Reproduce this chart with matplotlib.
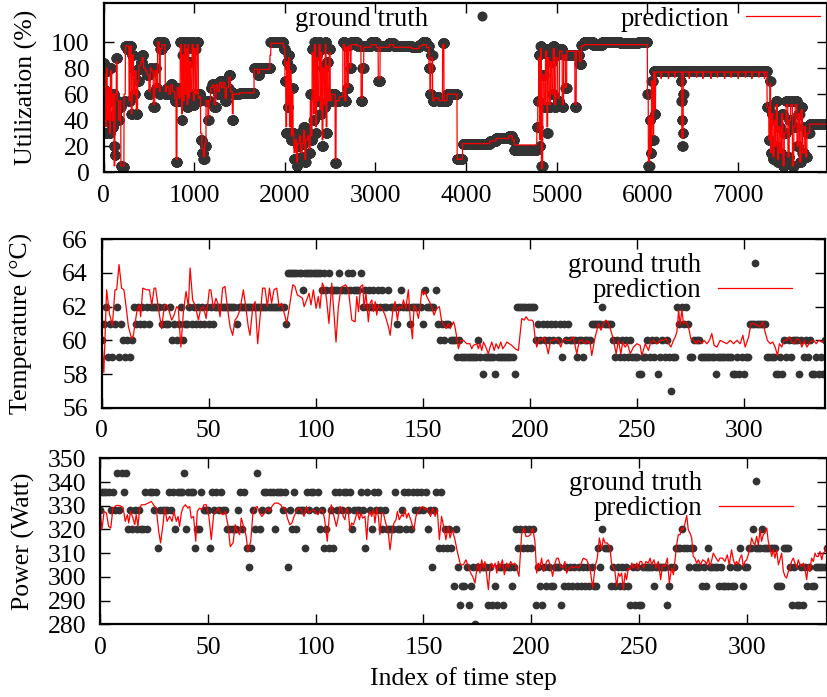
import numpy as np
import matplotlib
matplotlib.use("Agg")
import matplotlib.pyplot as plt
from matplotlib.lines import Line2D

plt.rcParams["font.family"] = ["Liberation Serif", "DejaVu Serif"]
plt.rcParams["font.size"] = 18.5

DOT = "#333333"
RED = "#ff0000"
LEG_FS = 19.3

# ---------------- panel (a): utilization, run-length encoded (start index, value)
util_len = 7985
util_gt_start = [0, 8, 15, 22, 30, 45, 55, 65, 75, 85, 95, 105, 115, 122, 130, 140, 150, 160, 175, 190,
                 205, 225, 240, 260, 280, 290, 305, 315, 330, 345, 360, 375, 390, 410, 425, 440, 460, 480,
                 500, 515, 530, 548, 565, 580, 595, 615, 625, 645, 665, 680, 695, 720, 740, 760, 785, 800,
                 810, 830, 845, 860, 870, 880, 890, 900, 910, 920, 930, 940, 950, 960, 975, 990, 1000, 1015,
                 1030, 1045, 1060, 1070, 1085, 1100, 1115, 1130, 1150, 1160, 1180, 1200, 1220, 1240, 1260,
                 1280, 1300, 1320, 1340, 1355, 1380, 1400, 1420, 1430, 1500, 1660, 1700, 1720, 1840, 1985,
                 2000, 2010, 2020, 2030, 2040, 2050, 2060, 2070, 2080, 2090, 2100, 2115, 2130, 2140, 2160,
                 2175, 2190, 2205, 2220, 2230, 2250, 2265, 2280, 2290, 2300, 2315, 2325, 2340, 2350, 2360,
                 2375, 2390, 2400, 2410, 2420, 2435, 2445, 2455, 2465, 2475, 2490, 2500, 2520, 2555, 2565,
                 2600, 2640, 2660, 2675, 2690, 2700, 2720, 2730, 2800, 2840, 2855, 2870, 2950, 3010, 3030,
                 3050, 3150, 3200, 3400, 3480, 3520, 3560, 3590, 3600, 3610, 3630, 3650, 3700, 3740, 3760,
                 3790, 3900, 3960, 4260, 4330, 4470, 4510, 4530, 4780, 4790, 4800, 4810, 4820, 4830, 4845,
                 4860, 4875, 4890, 4900, 4915, 4930, 4945, 4960, 4975, 4990, 5010, 5030, 5060, 5075, 5095,
                 5110, 5200, 5215, 5250, 5270, 5300, 5400, 5500, 5700, 5900, 6000, 6010, 6025, 6035, 6045,
                 6060, 6070, 6080, 6090, 6370, 6375, 6380, 6385, 6390, 6395, 6400, 7320, 7340, 7350, 7360,
                 7370, 7385, 7400, 7410, 7420, 7435, 7450, 7465, 7480, 7495, 7510, 7530, 7550, 7565, 7580,
                 7600, 7615, 7630, 7650, 7665, 7680, 7695, 7710, 7730, 7745, 7760, 7790]
util_gt_val = [84, 63, 45, 30, 78, 40, 60, 30, 80, 55, 35, 60, 20, 13, 45, 88, 55, 40, 50, 5,
               4, 55, 97, 95, 55, 97, 45, 90, 60, 78, 45, 70, 80, 85, 90, 80, 78, 75,
               60, 80, 78, 50, 80, 65, 100, 60, 95, 100, 98, 60, 65, 60, 68, 62, 55, 8,
               65, 55, 100, 40, 90, 55, 100, 60, 95, 50, 100, 55, 85, 60, 100, 52, 95, 60,
               100, 55, 60, 25, 15, 10, 20, 55, 40, 55, 65, 68, 50, 68, 60,
               70, 65, 70, 55, 65, 75, 62, 40, 60, 61, 80, 75, 80, 100, 95,
               70, 30, 85, 50, 90, 30, 80, 25, 65, 30, 10, 25, 5, 20, 30,
               12, 22, 35, 8, 25, 30, 15, 60, 25, 95, 40, 100, 30, 90, 55,
               100, 45, 95, 20, 80, 50, 100, 30, 85, 55, 95, 55, 60, 7, 55,
               58, 100, 55, 97, 65, 98, 80, 100, 97, 55, 80, 97, 100, 97, 70,
               97, 99, 97, 96, 98, 100, 97, 80, 60, 90, 55, 58, 55, 99, 55,
               60, 10, 22, 24, 26, 28, 25, 17, 35, 55, 90, 20, 97, 5, 75,
               50, 95, 30, 90, 50, 85, 60, 97, 50, 90, 55, 95, 50, 90, 65,
               90, 50, 90, 83, 98, 100, 98, 100, 99, 100, 60, 5, 40, 15, 70,
               25, 78, 45, 78, 70, 55, 40, 20, 30, 60, 78, 50, 25, 70, 15,
               45, 10, 40, 20, 55, 8, 35, 15, 45, 5, 30, 55, 12, 40, 55,
               5, 35, 55, 20, 45, 8, 50, 15, 35, 12, 30, 37]

util_pred_start = [0, 10, 20, 30, 40, 55, 65, 75, 90, 105, 115, 125, 140, 150, 165, 180, 190, 225, 240,
                   280, 290, 305, 315, 330, 345, 360, 375, 390, 410, 425, 440, 460, 480, 500, 515, 530,
                   548, 565, 580, 595, 615, 625, 645, 680, 695, 720, 740, 760, 785, 800, 810, 830, 845,
                   860, 870, 880, 890, 900, 910, 920, 930, 940, 950, 960, 975, 990, 1000, 1015, 1030,
                   1045, 1060, 1070, 1085, 1100, 1115, 1130, 1150, 1160, 1180, 1200, 1220, 1240, 1260,
                   1280, 1300, 1320, 1340, 1355, 1380, 1400, 1420, 1430, 1500, 1660, 1700, 1720, 1835,
                   1845, 1985, 2000, 2010, 2020, 2030, 2040, 2050, 2060, 2070, 2080, 2090, 2100, 2115,
                   2130, 2140, 2160, 2175, 2190, 2205, 2220, 2230, 2250, 2265, 2280, 2290, 2300, 2315,
                   2325, 2340, 2350, 2360, 2375, 2390, 2400, 2410, 2420, 2435, 2445, 2455, 2465, 2475,
                   2490, 2500, 2520, 2555, 2565, 2600, 2640, 2660, 2675, 2690, 2700, 2720, 2730, 2800,
                   2840, 2855, 2870, 2950, 3010, 3030, 3050, 3150, 3200, 3400, 3480, 3520, 3560, 3590,
                   3600, 3610, 3630, 3650, 3700, 3740, 3755, 3790, 3900, 3960, 4260, 4330, 4470, 4510,
                   4530, 4780, 4790, 4800, 4810, 4820, 4830, 4845, 4860, 4875, 4890, 4900, 4915, 4930,
                   4945, 4960, 4975, 4990, 5010, 5030, 5060, 5075, 5095, 5110, 5200, 5215, 5250, 5270,
                   5300, 6000, 6010, 6025, 6035, 6045, 6060, 6070, 6080, 6090, 6150, 6155, 6230, 6235,
                   6300, 6305, 6380, 6395, 6460, 6465, 6540, 6545, 6610, 6615, 6700, 6705, 6770, 6775,
                   6850, 6855, 6920, 6925, 7000, 7005, 7080, 7085, 7150, 7155, 7230, 7235, 7290, 7295,
                   7320, 7340, 7350, 7360, 7370, 7385, 7400, 7410, 7420, 7435, 7450, 7465, 7480, 7495,
                   7510, 7530, 7550, 7565, 7580, 7600, 7615, 7630, 7650, 7665, 7680, 7695, 7710, 7730,
                   7745, 7760, 7790]
util_pred_val = [60, 75, 35, 80, 40, 65, 30, 78, 40, 60, 5, 60, 85, 55, 40, 55, 5, 60, 97,
                 55, 97, 45, 90, 60, 78, 48, 70, 82, 85, 88, 80, 78, 75, 62, 80, 78,
                 52, 78, 65, 100, 62, 95, 98, 62, 66, 60, 67, 62, 57, 10, 65, 57, 98,
                 45, 90, 55, 98, 60, 95, 52, 98, 57, 85, 62, 98, 55, 95, 60, 98,
                 57, 58, 30, 18, 12, 22, 55, 42, 55, 65, 67, 52, 67, 62,
                 69, 65, 69, 57, 65, 73, 62, 45, 60, 61, 79, 76, 79, 90,
                 99, 96, 72, 35, 85, 52, 88, 35, 78, 28, 62, 30, 15, 25,
                 8, 22, 28, 15, 22, 32, 10, 25, 28, 18, 55, 28, 92, 45,
                 98, 35, 88, 55, 98, 48, 92, 25, 80, 52, 98, 35, 82, 55,
                 92, 55, 60, 10, 55, 58, 98, 55, 96, 65, 97, 80, 98, 97,
                 57, 80, 96, 98, 96, 72, 96, 98, 96, 95, 97, 98, 96, 80,
                 62, 88, 55, 57, 55, 98, 55, 60, 10, 22, 24, 26, 28, 25,
                 21, 32, 55, 88, 25, 95, 3, 75, 52, 93, 35, 88, 52, 85,
                 60, 95, 52, 88, 57, 93, 52, 90, 65, 93, 52, 93, 85, 97,
                 98, 60, 8, 42, 15, 70, 28, 77, 48, 77, 72, 77, 72, 77,
                 73, 77, 26, 77, 72, 77, 73, 77, 72, 77, 72, 77, 73, 77,
                 72, 77, 73, 77, 72, 77, 73, 77, 72, 77, 73, 77, 72, 77,
                 50, 25, 68, 15, 45, 12, 40, 20, 52, 10, 35, 15, 45, 5,
                 30, 52, 12, 40, 52, 5, 35, 52, 20, 45, 8, 48, 15, 35,
                 12, 30, 37]

# ---------------- panel (b): temperature
temp_gt = [60, 61, 62, 59, 61, 59, 61, 62, 59, 61,
           60, 59, 60, 59, 60, 62, 61, 62, 61, 62,
           61, 62, 61, 62, 62, 62, 62, 62, 61, 62,
           61, 61, 62, 60, 61, 60, 61, 62, 60, 61,
           61, 62, 61, 62, 61, 62, 61, 62, 61, 62,
           61, 62, 61, 62, 62, 62, 62, 62, 62, 62,
           62, 62, 62, 61, 62, 62, 62, 62, 62, 62,
           62, 62, 62, 62, 62, 62, 62, 62, 62, 62,
           62, 62, 62, 62, 62, 62, 61, 64, 64, 64,
           64, 64, 64, 64, 63, 64, 64, 64, 64, 64,
           64, 64, 64, 63, 64, 63, 64, 63, 63, 63,
           63, 64, 63, 63, 63, 64, 63, 64, 63, 63,
           63, 64, 62, 63, 62, 63, 62, 63, 62, 63,
           62, 63, 62, 62, 63, 62, 62, 62, 61, 62,
           63, 62, 62, 62, 61, 62, 62, 62, 62, 62,
           61, 63, 62, 62, 62, 62, 63, 61, 60, 61,
           60, 61, 61, 60, 60, 60, 59, 60, 59, 59,
           59, 59, 59, 59, 59, 59, 60, 59, 58, 59,
           59, 59, 59, 59, 58, 59, 59, 59, 59, 59,
           59, 59, 59, 58, 62, 62, 62, 62, 62, 62,
           62, 62, 62, 60, 61, 60, 61, 60, 61, 60,
           61, 60, 61, 60, 61, 59, 61, 60, 61, 60,
           60, 60, 59, 60, 60, 59, 60, 60, 60, 61,
           61, 61, 61, 61, 62, 61, 61, 61, 61, 60,
           59, 60, 59, 60, 59, 60, 59, 60, 59, 59,
           59, 58, 58, 59, 59, 60, 59, 60, 59, 60,
           58, 59, 60, 59, 60, 59, 57, 59, 59, 62,
           61, 62, 61, 62, 61, 59, 59, 60, 60, 60,
           59, 59, 59, 59, 59, 59, 59, 58, 59, 59,
           59, 59, 59, 59, 59, 58, 58, 59, 58, 59,
           58, 59, 59, 61, 61, 61, 61, 61, 61, 61,
           61, 59, 59, 59, 59, 58, 58, 59, 58, 60,
           59, 60, 59, 60, 60, 60, 58, 60, 59, 60,
           59, 60, 58, 58, 59, 58, 59, 58, 60]

temp_pred_x = [0, 1, 2.3, 3.6, 5.0, 6.2, 7.0, 8.1, 9.3, 10.4, 11.4, 12.5, 14.0, 14.8, 16.4, 17.6, 18.2,
               19.2, 21.0, 22.3, 23.4, 24.5, 25.2, 26.5, 28.0, 29.3, 30.4, 31.6, 32.7, 33.8, 35.0, 35.8,
               37.0, 38.2, 39.4, 40.5, 41.3, 42.5, 43.6, 45.2, 46.3, 47.5, 48.8, 50.3, 51.0, 52.2, 53.4,
               54.5, 55.3, 56.5, 57.6, 58.9, 60.0, 61.2, 62.3, 63.4, 64.6, 66.2, 67.3, 68.5, 69.3, 70.6,
               71.7, 72.9, 74.0, 75.2, 76.3, 77.4, 78.4, 79.4, 80.5, 81.8, 82.9, 84.1, 84.9, 86.5, 87.7,
               89.3, 90.3, 91.4, 92.7, 93.8, 94.6, 95.8, 96.9, 97.8, 98.9, 100.2, 101.2, 102.0, 103.1,
               104.4, 105.1, 106.2, 107.5, 108.3, 109.5, 110.6, 111.7, 112.6, 114.0,
               115.3, 116.9, 118.4, 119.2, 120.0, 121.0, 122.0, 122.6, 123.5, 124.6, 125.4, 126.2,
               127.0, 127.8, 128.5, 129.3, 130.1, 131.3, 132.4, 134.0, 134.8, 136.0, 137.1, 138.2,
               139.1, 140.2, 141.0, 142.1, 143.3, 144.1, 145.2, 146.0, 146.9, 148.0, 148.8, 149.6,
               150.3, 151.1, 151.9, 153.1, 154.2, 155.3, 156.6, 157.8, 158.9, 160.0, 160.9, 162.0,
               162.8, 164.4, 165.1, 165.9, 166.7, 167.8, 169.0, 170.6, 172.1, 172.9, 173.7, 175.3,
               176.0, 176.8, 177.6, 178.4, 179.5, 180.7, 181.5, 182.3, 183.4, 184.3, 185.4, 186.5,
               187.4, 188.5, 189.3, 190.5, 191.6, 193.2, 194.7, 196.3, 197.4, 198.3, 199.4, 201.0,
               201.7, 202.5, 203.3, 204.5, 205.6, 206.7, 208.0, 208.7, 209.8, 211.1, 212.3, 213.4,
               214.5, 215.8, 217.3, 218.9, 220.4, 222.0, 223.2, 224.3, 225.9,
               227.0, 228.3, 229.0, 230.6, 232.2, 233.3, 234.5, 235.7, 236.8, 237.9, 239.2, 240.4,
               241.5, 242.6, 243.5, 244.6, 245.7, 247.0, 248.5, 250.1, 251.6, 252.4, 254.0, 255.5,
               256.6, 257.9, 259.4, 261.0, 262.5, 263.8, 264.9, 266.0, 267.2, 268.0, 268.8, 269.6,
               270.3, 271.1, 271.9, 273.1, 274.2, 275.3, 276.6, 277.8, 278.9, 280.5, 281.5, 282.8,
               284.0, 285.1, 286.2, 287.5, 289.0, 290.6, 292.1, 293.7, 295.3, 296.8, 298.4, 299.6,
               300.7, 302.3, 303.4, 304.6, 306.2, 307.7, 308.9, 310.0, 311.1, 312.4, 313.6, 314.7,
               315.8, 316.7, 317.8, 318.9, 320.2, 321.3, 322.5, 323.6, 324.8, 326.1, 327.2, 328.3,
               329.5, 331.1, 332.6, 333.9, 335.0, 336.5, 338.0]
temp_pred_y = [60.2, 58.1, 63.0, 61.6, 60.9, 63.0, 63.0, 64.5, 63.1, 63.0, 62.0, 60.8, 60.1, 60.3, 61.7, 62.1, 61.4,
               63.1, 63.0, 63.0, 62.1, 63.1, 63.1, 61.9, 60.7, 62.1, 62.1, 61.7, 61.2, 61.5, 62.0, 61.9,
               59.6, 61.7, 62.9, 62.0, 64.3, 62.4, 62.1, 61.2, 61.9, 62.0, 61.3, 63.0, 63.0, 61.9, 62.5,
               62.1, 61.4, 63.1, 63.2, 61.8, 60.8, 60.3, 61.2, 61.4, 61.8, 63.0, 62.0, 60.8, 60.3, 62.0,
               62.3, 59.8, 61.4, 63.1, 63.1, 62.0, 63.1, 62.2, 63.0, 63.1, 62.0, 62.2, 61.8, 61.0, 62.0,
               63.3, 63.2, 62.7, 62.6, 62.5, 62.0, 62.4, 62.8, 62.1, 63.0, 61.9, 62.6, 61.9, 63.4,
               63.0, 62.4, 61.0, 63.4, 62.0, 59.9, 62.0, 63.0, 63.2, 63.3,
               63.0, 61.2, 61.1, 62.6, 61.7, 63.2, 63.3, 61.9, 62.8, 61.1, 62.2, 62.4,
               61.7, 62.3, 61.5, 62.1, 62.0, 61.8, 61.5, 60.8, 60.3, 61.7, 62.3, 61.2,
               62.0, 61.9, 62.4, 61.9, 63.0, 61.4, 60.1, 62.1, 61.9, 61.3, 62.0, 63.0,
               62.7, 62.9, 62.6, 62.3, 62.0, 61.5, 61.9, 62.0, 61.1, 60.9, 60.7, 61.0,
               60.7, 61.1, 60.8, 60.2, 59.5, 60.0, 60.0, 59.8, 59.8, 59.5, 59.7, 59.8,
               59.5, 59.8, 59.4, 59.9, 59.6, 59.2, 59.6, 59.9, 59.4, 59.8, 59.5, 59.9,
               59.5, 59.7, 59.9, 59.8, 59.7, 59.5, 59.4, 61.3, 61.2, 61.4, 61.2, 61.2,
               61.1, 60.2, 59.6, 60.1, 60.0, 60.2, 59.6, 59.2, 60.0, 60.0, 60.1, 60.0,
               59.6, 60.1, 60.0, 60.0, 60.2, 59.2, 60.0, 60.0, 59.8,
               60.0, 59.8, 59.1, 60.2, 61.0, 60.6, 61.0, 61.2, 61.0, 60.6, 60.0, 59.2,
               60.0, 59.2, 59.9, 59.6, 59.8, 59.2, 59.6, 59.8, 59.7, 59.1, 59.8, 59.4,
               59.9, 60.0, 59.8, 60.0, 60.0, 60.1, 59.8, 59.6, 60.0, 60.2, 60.5, 61.8,
               60.9, 61.8, 61.0, 61.1, 60.8, 60.1, 60.0, 59.8, 60.0, 59.8, 60.0, 59.8,
               60.0, 60.4, 59.7, 59.6, 60.0, 59.9, 59.8, 60.0, 59.8, 60.0, 59.8, 60.3,
               59.6, 60.2, 61.0, 61.0, 60.9, 60.8, 61.1, 60.5, 60.0, 59.8, 59.9, 59.6,
               59.1, 59.8, 59.6, 60.0, 60.0, 60.2, 59.9, 59.8, 60.1, 60.0, 59.6, 60.0,
               59.6, 59.9, 60.0, 59.8, 60.0, 59.9, 60.0]

# ---------------- panel (c): power
power_gt = [328, 336, 336, 336, 336, 328, 336, 328, 344, 328,
            344, 336, 344, 320, 328, 320, 328, 320, 328, 320,
            320, 336, 320, 336, 336, 328, 336, 312, 328, 328,
            328, 328, 336, 328, 336, 320, 336, 336, 336, 344,
            320, 336, 336, 336, 312, 320, 320, 336, 328, 328,
            328, 312, 336, 328, 336, 328, 336, 328, 328, 320,
            320, 320, 320, 320, 328, 336, 320, 336, 312, 304,
            312, 328, 320, 344, 320, 328, 336, 336, 328, 336,
            336, 320, 336, 336, 336, 328, 336, 304, 328, 320,
            336, 320, 328, 328, 328, 312, 336, 328, 336, 336,
            328, 336, 320, 328, 312, 320, 312, 328, 312, 336,
            328, 336, 328, 336, 336, 328, 336, 320, 328, 328,
            328, 336, 328, 312, 336, 328, 320, 336, 328, 336,
            328, 320, 328, 320, 320, 320, 320, 336, 320, 320,
            328, 336, 320, 336, 320, 336, 328, 336, 328, 336,
            328, 336, 320, 328, 304, 328, 336, 312, 336, 312,
            320, 312, 320, 312, 296, 320, 304, 288, 296, 296,
            304, 288, 296, 304, 280, 304, 304, 304, 304, 304,
            288, 304, 288, 296, 288, 304, 304, 288, 304, 304,
            304, 296, 304, 320, 312, 320, 312, 320, 312, 320,
            312, 320, 288, 304, 296, 288, 304, 296, 304, 296,
            296, 304, 304, 304, 288, 296, 304, 296, 304, 296,
            304, 296, 304, 296, 304, 296, 304, 296, 304, 296,
            296, 312, 304, 320, 312, 312, 312, 296, 304, 296,
            304, 296, 304, 296, 304, 296, 288, 304, 288, 304,
            288, 288, 304, 304, 304, 304, 304, 296, 304, 304,
            304, 304, 304, 288, 296, 304, 304, 312, 312, 312,
            320, 312, 312, 304, 312, 312, 304, 304, 304, 296,
            304, 296, 312, 304, 304, 304, 304, 296, 304, 296,
            296, 296, 304, 296, 296, 304, 304, 312, 296, 304,
            304, 312, 312, 320, 312, 312, 312, 320, 312, 312,
            312, 312, 312, 312, 296, 296, 296, 312, 312, 312,
            304, 288, 304, 288, 288, 304, 288, 304, 296, 304,
            296, 296, 304, 304, 304, 304, 304, 312, 304]

power_pred_x = [0.3, 0.9, 1.9, 3.0, 4.0, 5.0, 6.0, 7.6, 9.1, 10.7, 11.7, 12.7, 13.3, 14.2, 15.3, 16.1,
                16.8, 17.6, 18.4, 19.2, 20.7, 22.3, 23.8, 25.3, 26.1, 27.2, 28.1, 29.2, 30.0, 31.1,
                32.3, 33.4, 34.3, 35.4, 36.2, 36.9, 37.7, 38.5, 39.6, 40.8, 41.6, 42.3, 43.4, 44.4,
                45.1, 46.2, 47.3, 48.2, 49.3, 50.5, 51.6, 52.7, 53.9, 55.0, 56.0, 57.0, 58.1, 59.3,
                60.4, 61.7, 62.7, 63.7, 64.8, 65.5, 66.8, 67.8, 68.6, 69.9, 70.9, 71.7, 72.9, 74.0,
                75.1, 76.4, 77.6, 78.7, 79.7, 81.0, 82.5, 83.8, 84.8, 85.9, 86.9, 88.0, 89.0, 90.0,
                91.0, 91.8, 93.3, 94.6, 95.7, 96.8, 97.7, 98.8, 99.8, 101.1, 102.3, 103.4, 104.2,
                105.4, 106.5, 107.3, 108.5, 109.6, 110.4,
                111.3, 112.0, 112.8, 113.6, 114.4, 115.2, 115.9, 116.7, 117.5, 118.3, 119.3, 120.3,
                121.0, 121.8, 122.9, 123.7, 124.4, 125.2, 126.0, 126.8, 127.5, 128.3, 129.1, 129.8,
                130.6, 131.4, 132.5, 133.7, 134.5, 135.6, 136.3, 137.3, 137.9, 138.8, 139.9, 140.7,
                141.4, 142.2, 143.0, 144.1, 145.0, 145.6, 146.5, 147.6, 148.7, 149.6, 150.7, 151.5,
                152.3, 153.3, 154.3, 155.4, 156.4, 157.4, 158.4, 159.5, 160.4, 161.5, 162.3, 163.4,
                164.6, 165.7, 166.6, 167.2, 168.5, 169.7, 170.8, 171.9, 172.8, 173.9, 174.7, 175.4,
                176.2, 177.0, 177.8, 178.5, 179.3, 180.1, 180.8, 181.6, 182.4, 183.2, 184.0, 184.7,
                185.5, 186.6, 187.5, 188.6, 189.4, 190.4, 191.4, 192.4, 193.2, 194.3, 195.5, 196.6,
                197.5, 198.6, 199.7, 200.6, 201.7, 202.5, 203.3, 204.0, 204.8, 205.6, 206.4, 207.1,
                207.9, 209.0, 209.9, 211.0, 211.8, 212.5, 213.6, 214.5, 215.6, 216.4, 217.6, 218.7,
                219.5, 220.7, 221.8, 222.9, 224.1,
                225.7, 227.2, 228.5, 229.6, 230.6, 231.6, 232.2, 232.6, 233.4, 234.2, 235.3, 236.5,
                237.3, 238.0, 238.8, 239.6, 240.4, 241.1, 241.9, 242.7, 243.5, 244.2, 245.0, 245.8,
                246.6, 247.3, 248.1, 248.9, 249.6, 250.4, 251.2, 252.0, 253.2, 254.3, 255.1, 255.8,
                256.9, 257.8, 258.9, 260.0, 260.9, 262.0, 263.1, 264.0, 265.1, 265.9, 266.6, 267.4,
                268.2, 269.0, 269.7, 270.5, 271.3, 272.1, 272.8, 273.6, 274.4, 275.1, 275.9, 276.7,
                277.5, 278.5, 279.5, 280.6, 281.3, 282.1, 282.9, 283.7, 284.4, 285.7, 286.7, 287.5,
                288.7, 289.8, 290.9, 291.8, 292.9, 293.7, 294.5, 295.2, 296.0, 296.8, 297.6, 298.3,
                299.1, 299.9, 300.6, 301.4, 302.2, 303.0, 303.7, 304.5, 305.3, 306.1, 306.8, 307.6,
                308.4, 309.2, 309.9, 310.7, 311.5, 312.2, 313.0, 313.8, 314.6, 315.3, 316.1, 316.9,
                317.7, 318.4, 319.2, 320.0, 320.7, 321.5, 322.3, 323.1, 323.8, 324.6, 325.4, 326.2,
                327.0, 327.7, 328.5, 329.2, 330.0, 330.8, 331.6, 332.3, 333.1, 333.9, 334.7, 335.4,
                336.2, 337.0]
power_pred_y = [326.2, 319.9, 327.6, 326.9, 321.3, 320.6, 329.0, 330.1, 330.1, 329.3, 323.4, 326.2, 322.7, 327.6, 324.8, 322.0,
                326.2, 321.3, 329.0, 330.4, 330.4, 331.1, 331.8, 329.7, 329.0, 319.2, 314.3, 322.0, 329.0, 323.4,
                325.5, 323.4, 327.6, 323.4, 325.5, 321.3, 326.9, 329.3, 330.4, 329.0, 329.7, 324.8, 325.5, 315.0,
                327.6, 329.0, 328.3, 330.4, 330.4, 325.5, 315.7, 326.2, 327.6, 329.0, 326.9, 326.2, 327.6, 322.0,
                312.8, 314.3, 322.0, 319.2, 317.8, 324.8, 320.6, 317.1, 310.7, 315.0, 326.9, 329.0, 329.7, 326.9,
                325.5, 326.9, 329.0, 327.6, 329.7, 331.1, 331.1, 330.4, 329.0, 329.0, 324.8, 322.0, 322.7, 325.5,
                327.6, 329.0, 328.3, 325.5, 329.7, 326.9, 327.6, 328.3, 327.6, 326.2, 328.3, 327.6, 324.1,
                315.0, 327.6, 330.4, 325.5, 321.3, 324.8,
                329.7, 329.0, 325.5, 324.1, 329.0, 326.9, 319.9, 322.7, 322.0, 324.1, 327.6, 324.1,
                326.9, 324.8, 325.5, 315.7, 325.5, 327.6, 325.5, 328.3, 322.7, 329.0, 325.5, 317.8,
                326.9, 326.9, 322.7, 318.5, 311.4, 319.9, 322.7, 324.1, 327.6, 324.1, 326.2, 325.5,
                328.3, 324.8, 326.9, 324.1, 321.3, 319.9, 325.5, 327.6, 329.0, 329.7, 328.3, 329.0,
                327.6, 325.5, 329.0, 325.5, 328.3, 315.7, 325.5, 320.6, 315.7, 321.3, 316.4, 319.9,
                315.7, 310.7, 307.2, 305.1, 305.1, 307.2, 304.4, 301.6, 300.2, 297.4, 303.0, 305.8,
                301.6, 307.2, 303.7, 306.5, 300.9, 294.6, 303.0, 305.8, 303.7, 305.8, 301.6, 306.5,
                303.7, 307.2, 300.9, 305.8, 303.7, 306.5, 305.1, 305.8, 303.7, 300.2, 317.8, 320.6,
                317.1, 317.1, 317.8, 320.6, 315.0, 301.6, 305.8, 303.7, 307.9, 302.3, 303.7, 306.5,
                307.2, 304.4, 300.2, 305.8, 307.9, 307.9, 304.4, 303.7, 306.5, 301.6, 303.7, 304.4,
                303.7, 304.4, 303.7, 305.1, 307.9,
                307.2, 303.7, 295.3, 304.4, 307.9, 316.4, 313.5, 311.4, 316.4, 314.3, 314.3, 312.1,
                305.1, 304.4, 302.3, 296.0, 301.6, 300.2, 301.6, 294.6, 301.6, 298.8, 303.7, 303.0,
                305.8, 303.7, 304.4, 305.8, 303.0, 306.5, 306.5, 303.7, 306.5, 305.8, 307.9, 305.1,
                307.2, 303.7, 306.5, 298.8, 305.1, 304.4, 307.9, 297.4, 303.7, 300.9, 306.5, 313.5,
                317.8, 317.8, 320.6, 319.9, 322.7, 325.9, 319.9, 318.5, 316.4, 308.6, 307.9, 305.8,
                307.2, 305.1, 307.2, 306.5, 305.1, 307.9, 304.4, 307.2, 310.0, 307.9, 306.5, 307.9,
                307.9, 306.5, 309.3, 305.1, 311.4, 307.2, 305.1, 306.5, 305.1, 307.9, 309.3, 304.4,
                306.5, 307.2, 309.3, 312.1, 316.4, 314.3, 313.5, 317.1, 313.5, 319.9, 315.0, 317.8,
                318.5, 320.6, 315.0, 312.1, 308.6, 311.4, 307.9, 311.4, 305.1, 307.2, 310.0, 302.3,
                300.2, 299.5, 302.3, 303.7, 306.5, 307.9, 305.8, 303.7, 307.2, 305.1, 304.4, 305.8,
                303.0, 298.8, 305.1, 302.3, 307.9, 306.5, 310.0, 308.6, 308.6, 310.7, 307.2, 310.0,
                310.7, 313.5]


def runs(starts, vals, n):
    lengths = np.diff(starts + [n])
    return np.repeat(vals, lengths)


def style(ax):
    ax.tick_params(direction="in", length=7, width=1.0, top=True, right=True)
    ax.tick_params(axis="x", pad=9)
    ax.tick_params(axis="y", pad=10)
    for s in ax.spines.values():
        s.set_linewidth(1.6)


W, H = 828, 697
fig = plt.figure(figsize=(W / 100, H / 100), dpi=100)


def axes_px(left, right, top, bottom):
    return fig.add_axes([left / W, 1 - bottom / H, (right - left) / W, (bottom - top) / H])


leg_kw = dict(markerfirst=False, frameon=False, loc="center right", borderaxespad=0,
              borderpad=0, handlelength=2.76, handletextpad=0.63, fontsize=LEG_FS)

# (a) utilization
ax1 = axes_px(103.6, 827.3, 3, 172.3)
idx = np.arange(util_len)
ax1.plot(idx, runs(util_gt_start, util_gt_val, util_len), "o", ms=7.2, mew=0, color=DOT)
ax1.plot(idx, runs(util_pred_start, util_pred_val, util_len), "-", lw=0.9, color=RED)
ax1.set_xlim(0, util_len)
ax1.set_ylim(0, 130)
ax1.set_xticks(np.arange(0, 8000, 1000))
ax1.set_yticks(np.arange(0, 101, 20))
ax1.set_ylabel("Utilization (%)")
ax1.yaxis.set_label_coords(-0.091, 0.5)
style(ax1)
h_gt = Line2D([], [], ls="none", marker="o", ms=7.2, mew=0, color=DOT)
h_pr = Line2D([], [], ls="-", lw=0.9, color=RED)
ax1.legend([h_gt, h_pr], ["ground truth", "prediction"], ncol=2,
           bbox_to_anchor=(0.99, 0.905), columnspacing=3.8, **leg_kw)

# (b) temperature
ax2 = axes_px(101.7, 825, 239.3, 407.7)
ax2.plot(np.arange(len(temp_gt)), temp_gt, "o", ms=5.6, mew=0, color=DOT)
ax2.plot(temp_pred_x, temp_pred_y, "-", lw=0.9, color=RED)
ax2.set_xlim(0, 338)
ax2.set_ylim(56, 66)
ax2.set_xticks(np.arange(0, 301, 50))
ax2.set_yticks(np.arange(56, 67, 2))
ax2.set_ylabel("Temperature (°C)")
ax2.yaxis.set_label_coords(-0.095, 0.5)
style(ax2)
h_gt2 = Line2D([], [], ls="none", marker="o", ms=5.6, mew=0, color=DOT)
ax2.legend([h_gt2, h_pr], ["ground truth", "prediction"],
           bbox_to_anchor=(0.954, 0.77), labelspacing=0.0, **leg_kw)

# (c) power
ax3 = axes_px(100, 826.7, 458.3, 624.3)
ax3.plot(np.arange(len(power_gt)), power_gt, "o", ms=5.6, mew=0, color=DOT)
ax3.plot(power_pred_x, power_pred_y, "-", lw=0.9, color=RED)
ax3.set_xlim(0, 337)
ax3.set_ylim(280, 350)
ax3.set_xticks(np.arange(0, 301, 50))
ax3.set_yticks(np.arange(280, 351, 10))
ax3.set_ylabel("Power (Watt)")
ax3.set_xlabel("Index of time step", labelpad=6)
ax3.yaxis.set_label_coords(-0.089, 0.5)
style(ax3)
ax3.legend([h_gt2, h_pr], ["ground truth", "prediction"],
           bbox_to_anchor=(0.954, 0.77), labelspacing=0.0, **leg_kw)

fig.savefig("out.png", dpi=100)
